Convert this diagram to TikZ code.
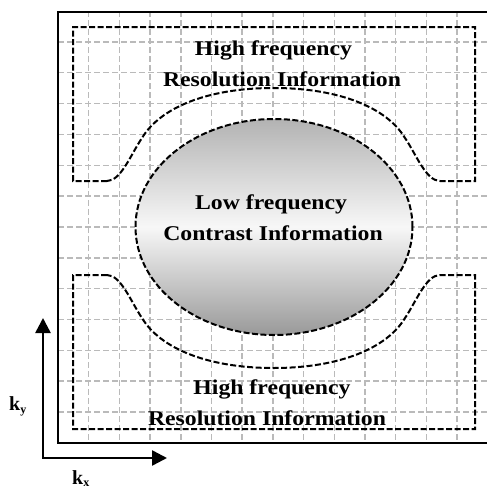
\documentclass[tikz,border=0pt]{standalone}
\usepackage{fontspec}
\setmainfont{Liberation Serif}
\usetikzlibrary{arrows.meta,shapes.geometric}
\begin{document}
\begin{tikzpicture}[x=1pt,y=-1pt,
  gridline/.style={draw=black!27, line width=1.5pt, dash pattern=on 6pt off 3pt},
  region/.style={draw=black, line width=2pt, dash pattern=on 6pt off 2.5pt},
  frameline/.style={draw=black, line width=2.3pt},
  axisarrow/.style={draw=black, line width=2.5pt, {Triangle[length=15pt,width=15pt]}-{Triangle[length=15pt,width=15pt]}},
  txt/.style={font=\fontsize{21}{21}\selectfont\bfseries, xscale=1.13, inner sep=0pt, anchor=base},
  klabel/.style={font=\fontsize{20}{20}\selectfont\bfseries, inner sep=0pt, anchor=base west}]
\useasboundingbox (0,0) rectangle (487,490);
% grid
\foreach \i in {1,...,13} {
  \draw[gridline] ({58+30.7*\i},11) -- ({58+30.7*\i},443);
  \draw[gridline] (58,{11+30.85*\i}) -- (487,{11+30.85*\i});
}
% frame
\draw[frameline] (487,12) -- (58,12) -- (58,443) -- (487,443);
% top high-frequency region
\draw[region] (107,181) -- (73,181) -- (73,27) -- (475,27) -- (475,181) -- (440,181)
  .. controls (426,181) and (416,154) .. (405,138)
  .. controls (387,108) and (340,88) .. (273.5,88)
  .. controls (207,88) and (160,108) .. (142,138)
  .. controls (131,154) and (121,181) .. (107,181) -- cycle;
% bottom high-frequency region
\draw[region] (107,275) -- (73,275) -- (73,429) -- (475,429) -- (475,275) -- (440,275)
  .. controls (426,275) and (416,302) .. (405,318)
  .. controls (387,348) and (340,368) .. (273.5,368)
  .. controls (207,368) and (160,348) .. (142,318)
  .. controls (131,302) and (121,275) .. (107,275) -- cycle;
% low-frequency ellipse
\node[ellipse, region, minimum width=277pt, minimum height=216pt, inner sep=0pt,
  top color=black!30, bottom color=black!40, middle color=black!3] (lowf) at (274,227) {};
% texts
\node[txt] (hf1) at (273.5,55) {High frequency};
\node[txt] (ri1) at (282,86) {Resolution Information};
\node[txt] (lf) at (271,209) {Low frequency};
\node[txt] (ci) at (273,240) {Contrast Information};
\node[txt] (hf2) at (272,394) {High frequency};
\node[txt] (ri2) at (267,425) {Resolution Information};
% axes
\coordinate (o) at (43,458);
\coordinate (yt) at (43,318);
\coordinate (xt) at (167,458);
\draw[axisarrow] (yt) -- (o) -- (xt);
\node[klabel] (ky) at (9,410) {k\raisebox{-3.5pt}{\fontsize{12}{12}\selectfont y}};
\node[klabel] (kx) at (72,484) {k\raisebox{-2.5pt}{\fontsize{12}{12}\selectfont x}};
\end{tikzpicture}
\end{document}
